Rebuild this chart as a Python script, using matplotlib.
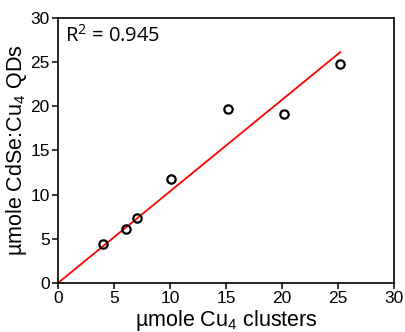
import matplotlib
matplotlib.use("Agg")
import matplotlib.pyplot as plt
import numpy as np

# data
cu4_clusters = [4.0, 6.05, 7.05, 10.1, 15.15, 20.2, 25.2]
cdse_qds = [4.4, 6.1, 7.35, 11.8, 19.65, 19.1, 24.75]
fit_slope = 1.037
fit_x = [0, 25.2]
r2_text = "R$^2$ = 0.945"
ticks = [0, 5, 10, 15, 20, 25, 30]

plt.rcParams['font.family'] = ['Liberation Sans', 'DejaVu Sans']
plt.rcParams['mathtext.fontset'] = 'custom'
plt.rcParams['mathtext.rm'] = 'Liberation Sans'
plt.rcParams['mathtext.default'] = 'regular'

fig = plt.figure(figsize=(4.06, 3.32), dpi=100)
ax = fig.add_axes([0.1429, 0.1476, 0.8275, 0.7982])

fx = np.array(fit_x)
ax.plot(fx, fit_slope * fx, color='red', lw=1.3, zorder=2)
ax.plot(cu4_clusters, cdse_qds, 'o', mfc='none', mec='black', ms=6, mew=1.6, zorder=3)

ax.set_xlim(0, 30)
ax.set_ylim(0, 30)
ax.set_xticks(ticks)
ax.set_yticks(ticks)
ax.tick_params(labelsize=12.5, width=1.1, length=4, direction='out', pad=2)
for s in ax.spines.values():
    s.set_linewidth(1.2)

ax.set_xlabel('µmole Cu$_4$ clusters', fontsize=15.5, labelpad=1)
ax.set_ylabel('µmole CdSe:Cu$_4$ QDs', fontsize=15.5, labelpad=1)
ax.text(0.02, 0.975, r2_text, transform=ax.transAxes, fontsize=14.5,
        family=['Open Sans', 'DejaVu Sans'], va='top', ha='left')

fig.savefig('out.png', dpi=100)
